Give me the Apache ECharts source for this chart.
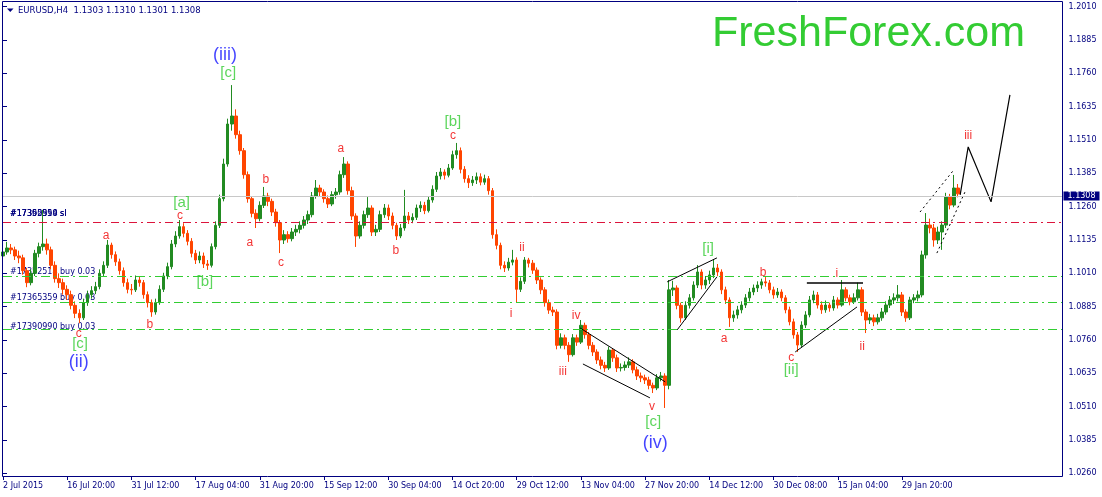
<!DOCTYPE html>
<html><head><meta charset="utf-8">
<script src="https://cdn.jsdelivr.net/npm/echarts@6/dist/echarts.min.js"></script>
<style>html,body{margin:0;padding:0;background:#fff}#c{width:1102px;height:497px}</style>
</head><body><div id="c"></div>
<script>
// ---- data ----
const symbolTitle = 'EURUSD,H4  1.1303 1.1310 1.1301 1.1308';
const brand = 'FreshForex.com';
const dateLabels = ['2 Jul 2015','16 Jul 20:00','31 Jul 12:00','17 Aug 04:00','31 Aug 20:00','15 Sep 12:00','30 Sep 04:00','14 Oct 20:00','29 Oct 12:00','13 Nov 04:00','27 Nov 20:00','14 Dec 12:00','30 Dec 08:00','15 Jan 04:00','29 Jan 20:00'];
const barsPerLabel = 16;
const totalSlots = 265;
const priceTicks = {min: 1.0260, max: 1.2010, step: 0.0125};
// [open, close, low, high] (one bar = 4 x H4)
const ohlc = [
[1.1075,1.1090,1.1062,1.1112],[1.1090,1.1105,1.1080,1.1128],[1.1105,1.1098,1.1082,1.1120],[1.1098,1.1075,1.1060,1.1110],
[1.1075,1.1068,1.1048,1.1095],[1.1068,1.1020,1.1005,1.1080],[1.1020,1.0975,1.0958,1.1030],[1.0975,1.1010,1.0965,1.1025],
[1.1010,1.1085,1.1000,1.1098],[1.1085,1.1110,1.1070,1.1125],[1.1110,1.1120,1.1095,1.1248],[1.1120,1.1098,1.1080,1.1140],
[1.1098,1.1040,1.1025,1.1110],[1.1040,1.0990,1.0975,1.1055],[1.0990,1.0975,1.0955,1.1010],[1.0975,1.0950,1.0930,1.0990],
[1.0950,1.0930,1.0910,1.0965],[1.0930,1.0890,1.0875,1.0945],[1.0890,1.0860,1.0842,1.0905],[1.0860,1.0843,1.0823,1.0875],
[1.0843,1.0900,1.0835,1.0915],[1.0900,1.0930,1.0888,1.0945],[1.0930,1.0945,1.0915,1.0962],[1.0945,1.0960,1.0932,1.0978],
[1.0960,1.1010,1.0950,1.1025],[1.1010,1.1040,1.0998,1.1055],[1.1040,1.1116,1.1030,1.1135],[1.1116,1.1080,1.1065,1.1125],
[1.1080,1.1053,1.1038,1.1092],[1.1053,1.1020,1.1005,1.1065],[1.1020,1.0975,1.0960,1.1032],[1.0975,1.0950,1.0935,1.0990],
[1.0950,1.0948,1.0930,1.0970],[1.0948,1.0985,1.0940,1.1002],[1.0985,1.0975,1.0960,1.1000],[1.0975,1.0930,1.0915,1.0985],
[1.0930,1.0900,1.0882,1.0942],[1.0900,1.0865,1.0847,1.0912],[1.0865,1.0900,1.0855,1.0915],[1.0900,1.0950,1.0892,1.0965],
[1.0950,1.1000,1.0940,1.1012],[1.1000,1.1035,1.0988,1.1050],[1.1035,1.1120,1.1025,1.1135],[1.1120,1.1150,1.1108,1.1168],
[1.1150,1.1185,1.1140,1.1210],[1.1185,1.1160,1.1145,1.1198],[1.1160,1.1130,1.1115,1.1172],[1.1130,1.1085,1.1070,1.1142],
[1.1085,1.1060,1.1045,1.1098],[1.1060,1.1075,1.1048,1.1092],[1.1075,1.1045,1.1030,1.1088],[1.1045,1.1040,1.1023,1.1060],
[1.1040,1.1110,1.1032,1.1122],[1.1110,1.1190,1.1100,1.1205],[1.1190,1.1290,1.1180,1.1305],[1.1290,1.1420,1.1280,1.1440],
[1.1420,1.1570,1.1410,1.1590],[1.1570,1.1600,1.1545,1.1716],[1.1600,1.1530,1.1515,1.1625],[1.1530,1.1470,1.1455,1.1545],
[1.1470,1.1380,1.1365,1.1480],[1.1380,1.1290,1.1275,1.1392],[1.1290,1.1235,1.1220,1.1300],[1.1235,1.1215,1.1180,1.1250],
[1.1215,1.1265,1.1205,1.1280],[1.1265,1.1300,1.1255,1.1334],[1.1300,1.1280,1.1262,1.1312],[1.1280,1.1240,1.1225,1.1290],
[1.1240,1.1200,1.1185,1.1252],[1.1200,1.1135,1.1086,1.1210],[1.1135,1.1155,1.1120,1.1172],[1.1155,1.1140,1.1125,1.1168],
[1.1140,1.1165,1.1130,1.1180],[1.1165,1.1175,1.1150,1.1192],[1.1175,1.1190,1.1160,1.1205],[1.1190,1.1210,1.1178,1.1225],
[1.1210,1.1230,1.1195,1.1245],[1.1230,1.1300,1.1220,1.1315],[1.1300,1.1330,1.1290,1.1360],[1.1330,1.1315,1.1298,1.1342],
[1.1315,1.1290,1.1275,1.1325],[1.1290,1.1270,1.1255,1.1302],[1.1270,1.1305,1.1262,1.1318],[1.1305,1.1315,1.1290,1.1330],
[1.1315,1.1380,1.1305,1.1395],[1.1380,1.1420,1.1368,1.1446],[1.1420,1.1320,1.1305,1.1430],[1.1320,1.1225,1.1210,1.1335],
[1.1225,1.1150,1.1109,1.1235],[1.1150,1.1190,1.1140,1.1205],[1.1190,1.1230,1.1178,1.1245],[1.1230,1.1255,1.1218,1.1296],
[1.1255,1.1165,1.1150,1.1265],[1.1165,1.1175,1.1150,1.1192],[1.1175,1.1230,1.1165,1.1245],[1.1230,1.1255,1.1218,1.1270],
[1.1255,1.1225,1.1210,1.1268],[1.1225,1.1190,1.1175,1.1238],[1.1190,1.1150,1.1135,1.1200],[1.1150,1.1180,1.1142,1.1195],
[1.1180,1.1225,1.1170,1.1323],[1.1225,1.1210,1.1195,1.1240],[1.1210,1.1220,1.1198,1.1235],[1.1220,1.1255,1.1210,1.1268],
[1.1255,1.1265,1.1240,1.1280],[1.1265,1.1245,1.1232,1.1278],[1.1245,1.1285,1.1238,1.1300],[1.1285,1.1325,1.1275,1.1340],
[1.1325,1.1375,1.1315,1.1390],[1.1375,1.1390,1.1362,1.1405],[1.1390,1.1378,1.1362,1.1400],[1.1378,1.1405,1.1370,1.1420],
[1.1405,1.1455,1.1398,1.1470],[1.1455,1.1470,1.1440,1.1499],[1.1470,1.1400,1.1385,1.1482],[1.1400,1.1365,1.1350,1.1412],
[1.1365,1.1350,1.1330,1.1378],[1.1350,1.1360,1.1338,1.1375],[1.1360,1.1372,1.1345,1.1388],[1.1372,1.1352,1.1340,1.1385],
[1.1352,1.1365,1.1342,1.1380],[1.1365,1.1320,1.1305,1.1375],[1.1320,1.1155,1.1140,1.1330],[1.1155,1.1115,1.1100,1.1175],
[1.1115,1.1040,1.1025,1.1125],[1.1040,1.1030,1.1015,1.1055],[1.1030,1.1052,1.1020,1.1068],[1.1052,1.1060,1.1040,1.1098],
[1.1060,1.0950,1.0899,1.1070],[1.0950,1.0980,1.0940,1.0995],[1.0980,1.1060,1.0970,1.1071],[1.1060,1.1048,1.1032,1.1068],
[1.1048,1.1022,1.1008,1.1060],[1.1022,1.0985,1.0970,1.1032],[1.0985,1.0948,1.0932,1.0995],[1.0948,1.0900,1.0885,1.0958],
[1.0900,1.0872,1.0858,1.0912],[1.0872,1.0865,1.0850,1.0885],[1.0865,1.0740,1.0725,1.0875],[1.0740,1.0768,1.0728,1.0785],
[1.0768,1.0740,1.0725,1.0780],[1.0740,1.0705,1.0678,1.0752],[1.0705,1.0768,1.0698,1.0782],[1.0768,1.0752,1.0738,1.0780],
[1.0752,1.0815,1.0745,1.0835],[1.0815,1.0780,1.0765,1.0825],[1.0780,1.0740,1.0725,1.0790],[1.0740,1.0715,1.0700,1.0752],
[1.0715,1.0685,1.0670,1.0725],[1.0685,1.0665,1.0650,1.0698],[1.0665,1.0655,1.0640,1.0678],[1.0655,1.0722,1.0648,1.0735],
[1.0722,1.0693,1.0678,1.0730],[1.0693,1.0655,1.0640,1.0705],[1.0655,1.0657,1.0642,1.0672],[1.0657,1.0666,1.0645,1.0680],
[1.0666,1.0678,1.0655,1.0695],[1.0678,1.0648,1.0635,1.0688],[1.0648,1.0625,1.0610,1.0660],[1.0625,1.0618,1.0602,1.0638],
[1.0618,1.0610,1.0595,1.0630],[1.0610,1.0590,1.0575,1.0622],[1.0590,1.0580,1.0561,1.0600],[1.0580,1.0618,1.0572,1.0632],
[1.0618,1.0625,1.0605,1.0640],[1.0625,1.0590,1.0505,1.0635],[1.0590,1.0948,1.0575,1.0985],[1.0948,1.0955,1.0925,1.0982],
[1.0955,1.0890,1.0875,1.0965],[1.0890,1.0843,1.0825,1.0900],[1.0843,1.0890,1.0835,1.0905],[1.0890,1.0918,1.0878,1.0932],
[1.0918,1.0966,1.0908,1.0980],[1.0966,1.1015,1.0955,1.1041],[1.1015,1.0966,1.0950,1.1025],[1.0966,1.0985,1.0952,1.1000],
[1.0985,1.1004,1.0970,1.1020],[1.1004,1.1030,1.0992,1.1060],[1.1030,1.1015,1.1000,1.1045],[1.1015,1.0948,1.0932,1.1025],
[1.0948,1.0910,1.0895,1.0960],[1.0910,1.0843,1.0809,1.0920],[1.0843,1.0854,1.0828,1.0870],[1.0854,1.0873,1.0840,1.0888],
[1.0873,1.0891,1.0860,1.0905],[1.0891,1.0918,1.0880,1.0932],[1.0918,1.0940,1.0905,1.0955],[1.0940,1.0955,1.0928,1.0968],
[1.0955,1.0966,1.0940,1.0980],[1.0966,1.0978,1.0952,1.0990],[1.0978,1.0974,1.0960,1.0996],[1.0974,1.0948,1.0935,1.0985],
[1.0948,1.0929,1.0915,1.0960],[1.0929,1.0940,1.0918,1.0955],[1.0940,1.0918,1.0905,1.0950],[1.0918,1.0873,1.0860,1.0928],
[1.0873,1.0828,1.0815,1.0885],[1.0828,1.0779,1.0765,1.0840],[1.0779,1.0741,1.0715,1.0790],[1.0741,1.0816,1.0732,1.0830],
[1.0816,1.0854,1.0805,1.0868],[1.0854,1.0910,1.0845,1.0925],[1.0910,1.0929,1.0898,1.0945],[1.0929,1.0891,1.0878,1.0940],
[1.0891,1.0873,1.0858,1.0905],[1.0873,1.0891,1.0862,1.0908],[1.0891,1.0880,1.0866,1.0900],[1.0880,1.0910,1.0870,1.0925],
[1.0910,1.0891,1.0878,1.0920],[1.0891,1.0948,1.0885,1.0985],[1.0948,1.0918,1.0905,1.0958],[1.0918,1.0903,1.0890,1.0930],
[1.0903,1.0918,1.0895,1.0935],[1.0918,1.0948,1.0908,1.0975],[1.0948,1.0865,1.0850,1.0958],[1.0865,1.0835,1.0786,1.0875],
[1.0835,1.0843,1.0820,1.0858],[1.0843,1.0828,1.0812,1.0855],[1.0828,1.0843,1.0818,1.0858],[1.0843,1.0865,1.0832,1.0880],
[1.0865,1.0891,1.0855,1.0905],[1.0891,1.0910,1.0880,1.0925],[1.0910,1.0918,1.0895,1.0935],[1.0918,1.0929,1.0905,1.0966],
[1.0929,1.0865,1.0850,1.0940],[1.0865,1.0843,1.0828,1.0875],[1.0843,1.0910,1.0835,1.0922],[1.0910,1.0918,1.0898,1.0932],
[1.0918,1.0929,1.0905,1.0945],[1.0929,1.1079,1.0920,1.1095],[1.1079,1.1191,1.1065,1.1236],[1.1191,1.1180,1.1160,1.1215],
[1.1180,1.1135,1.1110,1.1195],[1.1135,1.1165,1.1120,1.1185],[1.1165,1.1191,1.1098,1.1205],[1.1191,1.1296,1.1180,1.1312],
[1.1296,1.1266,1.1250,1.1308],[1.1266,1.1330,1.1258,1.1379],[1.1330,1.1308,1.1295,1.1345]
];
const lastPrice = 1.1308;
const slLevels = [1.1213, 1.1205];
const buyLevels = [1.0995, 1.0894, 1.0789];
const orderTexts = [
  ['#17352514 buy 0.03', 1.1016], ['#17365359 buy 0.03', 1.0917], ['#17390990 buy 0.03', 1.0809],
  ['#17390990 sl', 1.1233], ['#17365359 sl', 1.1233], ['#17352514 sl', 1.1233]
];
const orderTextBar = 1.75;
// [text, bar position, price, degree]
const waveLabels = [
  ['(iii)',55.3,1.1829,'P'],['[c]',56.1,1.1760,'I'],['[a]',44.5,1.1274,'I'],['c',44.1,1.1225,'M'],
  ['a',25.7,1.1150,'M'],['b',36.6,1.0816,'M'],['c',18.9,1.0782,'M'],['[c]',19.2,1.0745,'I'],['(ii)',18.9,1.0678,'P'],
  ['[b]',50.3,1.0978,'I'],['a',61.5,1.1124,'M'],['b',65.5,1.1360,'M'],['c',69.3,1.1049,'M'],['a',84.2,1.1476,'M'],
  ['b',97.9,1.1094,'M'],['[b]',112.1,1.1578,'I'],['c',112.1,1.1525,'M'],['i',126.6,1.0858,'M'],['ii',129.3,1.1105,'M'],
  ['iii',139.5,1.0640,'M'],['iv',142.8,1.0850,'M'],['v',161.7,1.0509,'M'],['[c]',162.0,1.0453,'I'],['(iv)',162.5,1.0374,'P'],
  ['[i]',175.7,1.1101,'I'],['a',179.7,1.0764,'M'],['b',189.4,1.1012,'M'],['c',196.4,1.0693,'M'],['[ii]',196.4,1.0648,'I'],
  ['i',207.8,1.1008,'M'],['ii',214.1,1.0734,'M'],['iii',240.5,1.1525,'M']
];
const solidTrendLines = [
  [[143.8,1.0805],[165.0,1.0603]], [[144.5,1.0670],[161.2,1.0543]],
  [[165.5,1.0978],[177.9,1.1068]], [[168.0,1.0798],[177.9,1.0997]],
  [[197.4,1.0715],[212.8,1.0884]]
];
const flatTop = [[200.3,1.0974],[214.3,1.0974]];
const dottedTrendLines = [
  [[228.5,1.1240],[236.7,1.1394]], [[232.7,1.1086],[239.7,1.1315]]
];
const projectionPath = [[238.5,1.1304],[240.5,1.1484],[246.2,1.1278],[250.9,1.1679]];

// ---- chart ----
const NAVY = '#000080';
const SMALL = '"DejaVu Sans"';
const degreeStyle = {
  M: {color:'#f00000', fontSize:12},
  I: {color:'#33cc33', fontSize:15},
  P: {color:'#1414ff', fontSize:18}
};
const categories = Array.from({length: totalSlots}, (_, i) => String(i));
const showLabel = (idx) => idx % barsPerLabel === 0 && idx / barsPerLabel < dateLabels.length;

const lineSeries = (pts, style) => ({
  type:'line', xAxisIndex:1, yAxisIndex:0, data: pts, showSymbol:false, symbol:'none',
  lineStyle: style, silent:true, z:4, animation:false
});

const option = {
  animation:false,
  grid:{left:3, right:39.5, top:6.7, bottom:23.7, containLabel:false},
  xAxis:[
    {type:'category', data:categories, boundaryGap:false, offset:2.7,
     axisLine:{show:false},
     axisTick:{show:true, length:4, interval:showLabel, lineStyle:{color:NAVY}},
     axisLabel:{show:true, interval:showLabel, align:'left', margin:6, color:NAVY, fontFamily:SMALL, fontSize:8,
       formatter:(v)=>{const i=parseInt(v,10); return showLabel(i)?dateLabels[i/barsPerLabel]:'';}},
     splitLine:{show:false}},
    {type:'value', min:0, max:totalSlots-1, show:false}
  ],
  yAxis:[{type:'value', position:'right', min:priceTicks.min, max:priceTicks.max, interval:priceTicks.step,
    axisLine:{show:false}, splitLine:{show:false},
    axisTick:{show:true, length:4, lineStyle:{color:NAVY}},
    axisLabel:{color:NAVY, fontFamily:SMALL, fontSize:8, margin:6, formatter:(v)=>v.toFixed(4)}}],
  graphic:[
    {type:'rect', shape:{x:2.5, y:1.5, width:1060, height:475}, style:{fill:'none', stroke:NAVY, lineWidth:1}, z:10, silent:true},
    {type:'polygon', shape:{points:[[7,8.5],[13.5,8.5],[10.25,12]]}, style:{fill:NAVY}, z:10},
    {type:'text', x:18, y:10.7, style:{text:symbolTitle, fill:NAVY, font:'8.5px "DejaVu Sans"', verticalAlign:'middle', align:'left'}, z:10},
    {type:'text', x:712, y:34, style:{text:brand, fill:'#33cc33', font:'43px "Liberation Sans"', verticalAlign:'middle', align:'left'}, z:10}
  ],
  series:[
    {type:'scatter', xAxisIndex:1, yAxisIndex:0, z:1, symbolSize:0.1, itemStyle:{color:'transparent'}, silent:true,
     data: orderTexts.map(t=>({name:t[0], value:[orderTextBar, t[1]]})),
     label:{show:true, position:'right', distance:0, align:'left', verticalAlign:'middle', formatter:(p)=>p.name,
       color:NAVY, opacity:1, fontFamily:SMALL, fontSize:8}},
    {type:'candlestick', xAxisIndex:0, yAxisIndex:0, z:2, data:ohlc, barWidth:3, silent:true,
     itemStyle:{color:'#228b22', borderColor:'#228b22', color0:'#ff4500', borderColor0:'#ff4500', borderWidth:1},
     markLine:{silent:true, symbol:['none','none'], animation:false,
       data:[
         {yAxis:lastPrice, lineStyle:{color:'#c8c8c8', type:'solid', width:1, opacity:1},
          label:{show:true, position:'end', formatter:lastPrice.toFixed(4), color:'#ffffff', backgroundColor:NAVY,
                 padding:[1,4,0,4], fontFamily:SMALL, fontSize:8, distance:1}},
         ...slLevels.map(v=>({yAxis:v, lineStyle:{color:'#dc143c', type:[8,4,2,4], width:1, opacity:1}, label:{show:false}})),
         ...buyLevels.map(v=>({yAxis:v, lineStyle:{color:'#32cd32', type:[9,4,2,4], width:1, opacity:1}, label:{show:false}}))
       ]}},
    ...solidTrendLines.map(l=>lineSeries(l,{color:'#000', width:1})),
    lineSeries(flatTop,{color:'#000', width:1.6}),
    ...dottedTrendLines.map(l=>lineSeries(l,{color:'#000', width:1, type:[2,3]})),
    lineSeries(projectionPath,{color:'#000', width:1.2}),
    {type:'scatter', xAxisIndex:1, yAxisIndex:0, z:5, symbolSize:0.1, itemStyle:{color:'transparent'}, silent:true,
     data: waveLabels.map(w=>({name:w[0], value:[w[1], w[2]],
       label:{color:degreeStyle[w[3]].color, fontSize:degreeStyle[w[3]].fontSize}})),
     label:{show:true, position:'inside', align:'center', verticalAlign:'middle', formatter:(p)=>p.name,
       fontFamily:'"Liberation Sans"'}}
  ]
};
const chart = echarts.init(document.getElementById('c'));
chart.setOption(option);
</script>
</body></html>
